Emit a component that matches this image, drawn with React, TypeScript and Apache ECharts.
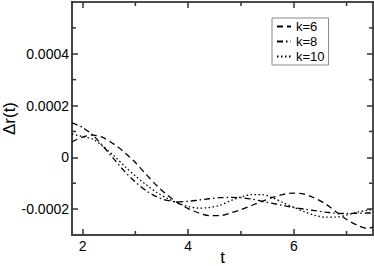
import React, { useEffect, useRef } from "react";
import * as echarts from "echarts";

const tValues = [1.8, 2.0, 2.2, 2.4, 2.6, 2.8, 3.0, 3.2, 3.4, 3.6, 3.8, 4.0, 4.2, 4.4, 4.6, 4.8, 5.0, 5.2, 5.4, 5.6, 5.8, 6.0, 6.2, 6.4, 6.6, 6.8, 7.0, 7.2, 7.4, 7.5];

const k6 = [6.0e-5, 7.8e-5, 8.6e-5, 7.5e-5, 5.0e-5, 1.8e-5, -2.0e-5, -6.5e-5, -1.08e-4, -1.45e-4, -1.75e-4, -1.98e-4, -2.15e-4, -2.25e-4, -2.25e-4, -2.15e-4, -2.02e-4, -1.86e-4, -1.70e-4, -1.55e-4, -1.43e-4, -1.38e-4, -1.42e-4, -1.58e-4, -1.80e-4, -2.10e-4, -2.40e-4, -2.62e-4, -2.74e-4, -2.70e-4];

const k8 = [1.33e-4, 1.15e-4, 8.5e-5, 4.0e-5, -8e-6, -5.5e-5, -9.5e-5, -1.28e-4, -1.52e-4, -1.66e-4, -1.72e-4, -1.70e-4, -1.65e-4, -1.60e-4, -1.56e-4, -1.55e-4, -1.56e-4, -1.61e-4, -1.70e-4, -1.78e-4, -1.86e-4, -1.94e-4, -2.00e-4, -2.06e-4, -2.12e-4, -2.16e-4, -2.17e-4, -2.16e-4, -2.15e-4, -2.15e-4];

const k10 = [9.0e-5, 8.0e-5, 7.0e-5, 4.0e-5, 5e-6, -3.5e-5, -7.2e-5, -1.05e-4, -1.35e-4, -1.58e-4, -1.77e-4, -1.90e-4, -1.96e-4, -1.94e-4, -1.85e-4, -1.68e-4, -1.53e-4, -1.44e-4, -1.44e-4, -1.56e-4, -1.75e-4, -1.93e-4, -2.10e-4, -2.24e-4, -2.31e-4, -2.31e-4, -2.23e-4, -2.12e-4, -2.04e-4, -2.01e-4];

const seriesNames = ["k=6", "k=8", "k=10"];

const X_MIN = 1.8;
const X_MAX = 7.5;
const Y_MIN = -0.0003;
const Y_MAX = 0.0006;
const xLabelValues = [2, 4, 6];
const xMinorValues = [3, 5, 7];
const yLabelValues = [-0.0002, 0, 0.0002, 0.0004];
const yMinorValues = [-0.0001, 0.0001, 0.0003, 0.0005];

const FONT = "Liberation Sans, Arial, Helvetica, sans-serif";

const W = 374;
const H = 266;
const GRID = { left: 72, right: 1, top: 2, bottom: 31 };

export default function App() {
  const ref = useRef<HTMLDivElement>(null);
  useEffect(() => {
    if (!ref.current) return;
    const chart = echarts.init(ref.current, undefined, { renderer: "svg" });
    const fmtY = (v: number) => (Math.abs(v) < 1e-12 ? "0" : v.toFixed(4));
    const xBase = { type: "value", min: X_MIN, max: X_MAX, splitLine: { show: false } };
    const yBase = { type: "value", min: Y_MIN, max: Y_MAX, splitLine: { show: false } };
    const mkData = (arr: number[]) => tValues.map((t, i) => [t, arr[i]]);
    const dashes = [[6, 4], [6, 3, 1.5, 3], [1.5, 2.5]];
    const dataSets = [k6, k8, k10];
    const majorTick = (vals: number[]) => ({
      show: true,
      inside: true,
      length: 6,
      customValues: vals,
      lineStyle: { color: "#333", width: 1.5 },
    });

    const option: any = {
      animation: false,
      backgroundColor: "#fff",
      grid: { ...GRID, outerBoundsMode: "none", containLabel: false },
      legend: {
        data: seriesNames,
        orient: "vertical",
        left: 272,
        top: 18,
        padding: [2, 4, 2, 4],
        itemWidth: 14,
        itemHeight: 10,
        itemGap: 2,
        borderColor: "#888",
        borderWidth: 1,
        backgroundColor: "#fff",
        itemStyle: { color: "rgba(0,0,0,0)", borderWidth: 0, opacity: 0 },
        textStyle: { fontSize: 13, fontFamily: FONT, color: "#000", lineHeight: 13 },
      },
      xAxis: [
        {
          ...xBase,
          position: "bottom",
          name: "t",
          nameLocation: "middle",
          nameGap: 14,
          nameMoveOverlap: false,
          nameTextStyle: { fontSize: 17, fontFamily: FONT, color: "#000" },
          axisLine: { show: true, onZero: false, lineStyle: { color: "#444", width: 2 } },
          axisTick: majorTick(xLabelValues),
          axisLabel: { show: true, customValues: xLabelValues, margin: 4, fontSize: 14, fontFamily: FONT, color: "#000" },
        },
        {
          ...xBase,
          position: "top",
          axisLine: { show: true, onZero: false, lineStyle: { color: "#111", width: 1.5 } },
          axisTick: majorTick(xLabelValues),
          axisLabel: { show: false, customValues: xLabelValues },
        },
      ],
      yAxis: [
        {
          ...yBase,
          position: "left",
          name: "\u0394r(t)",
          nameLocation: "middle",
          nameGap: 54,
          nameRotate: 90,
          nameMoveOverlap: false,
          nameTextStyle: { fontSize: 17, fontFamily: FONT, color: "#000" },
          axisLine: { show: true, onZero: false, lineStyle: { color: "#444", width: 2 } },
          axisTick: majorTick(yLabelValues),
          axisLabel: { show: true, customValues: yLabelValues, margin: 3, fontSize: 14, fontFamily: FONT, color: "#000", formatter: fmtY },
        },
        {
          ...yBase,
          position: "right",
          axisLine: { show: true, onZero: false, lineStyle: { color: "#111", width: 1.5 } },
          axisTick: majorTick(yLabelValues),
          axisLabel: { show: false, customValues: yLabelValues },
        },
      ],
      series: seriesNames.map((name, i) => ({
        name,
        type: "line",
        xAxisIndex: 0,
        yAxisIndex: 0,
        data: mkData(dataSets[i]),
        showSymbol: false,
        symbol: "none",
        smooth: 0.3,
        lineStyle: { color: "#000", width: 1.3, type: dashes[i] },
        itemStyle: { color: "#000" },
        emphasis: { disabled: true },
        z: 3,
      })),
    };
    chart.setOption(option);

    // ticks (major and minor) placed through the chart's own scales
    const ticks: any[] = [];
    const tickStyle = { stroke: "#333", lineWidth: 1.5 };
    const px = (x: number, y: number) => chart.convertToPixel({ gridIndex: 0 }, [x, y]) as number[];
    const addX = (v: number, len: number) => {
      const b = px(v, Y_MIN);
      const t = px(v, Y_MAX);
      ticks.push({ type: "line", silent: true, z: 10, shape: { x1: b[0], y1: b[1], x2: b[0], y2: b[1] - len }, style: tickStyle });
      ticks.push({ type: "line", silent: true, z: 10, shape: { x1: t[0], y1: t[1], x2: t[0], y2: t[1] + len }, style: tickStyle });
    };
    const addY = (v: number, len: number) => {
      const l = px(X_MIN, v);
      const r = px(X_MAX, v);
      ticks.push({ type: "line", silent: true, z: 10, shape: { x1: l[0], y1: l[1], x2: l[0] + len, y2: l[1] }, style: tickStyle });
      ticks.push({ type: "line", silent: true, z: 10, shape: { x1: r[0], y1: r[1], x2: r[0] - len, y2: r[1] }, style: tickStyle });
    };
    xMinorValues.forEach((v) => addX(v, 4));
    yMinorValues.forEach((v) => addY(v, 4));
    chart.setOption({ graphic: { elements: ticks } });

    return () => chart.dispose();
  }, []);
  return <div ref={ref} style={{ width: W, height: H, position: "absolute", left: 0, top: 0 }} />;
}
